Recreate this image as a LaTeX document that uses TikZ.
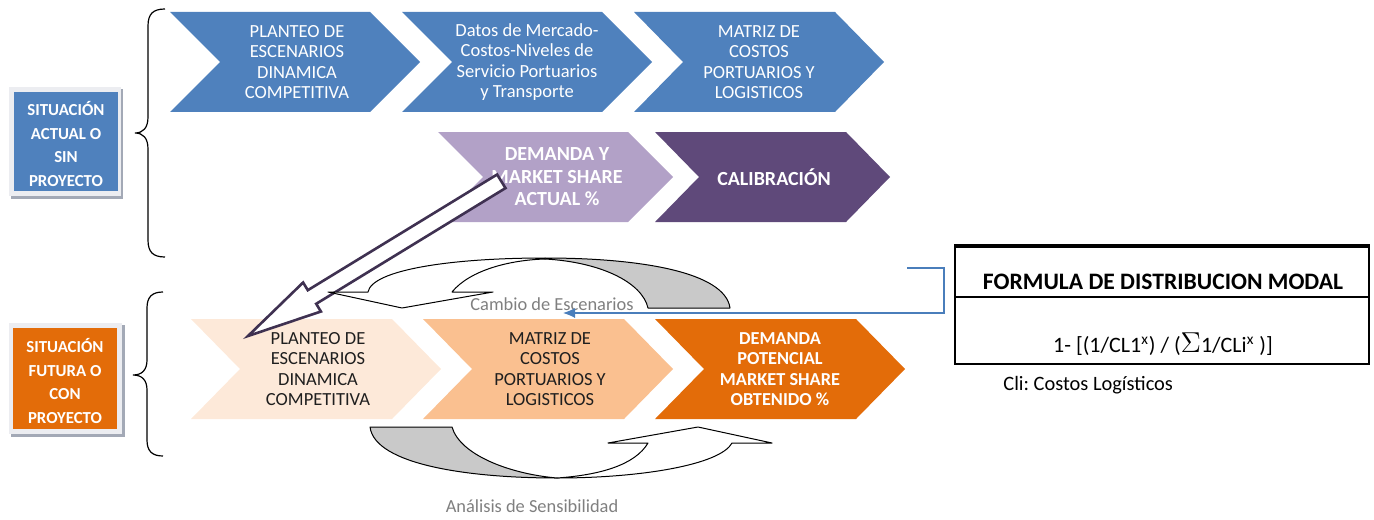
\documentclass[tikz,border=0pt]{standalone}
\usepackage{fontspec}
\setmainfont{Carlito}
\usetikzlibrary{arrows.meta}
\frenchspacing
\definecolor{cblue}{HTML}{4F81BD}
\definecolor{lpurple}{HTML}{B2A1C7}
\definecolor{dpurple}{HTML}{5F497A}
\definecolor{lpeach}{HTML}{FDE9D9}
\definecolor{mpeach}{HTML}{FAC090}
\definecolor{corange}{HTML}{E36C09}
\definecolor{arrowpurple}{HTML}{3F3151}
\definecolor{txtgray}{HTML}{7F7F7F}
\definecolor{lineblue}{HTML}{4A7EBB}
\definecolor{shgray}{HTML}{C9C9C9}
\definecolor{darktxt}{HTML}{1F1F1F}
\definecolor{framegray}{HTML}{ECEDF1}
\definecolor{shadowgray}{HTML}{A3A9B6}
\newcommand\chev[6]{%
  \fill[#6] (#1,#2) -- ({#1+#3-#5},#2) -- ({#1+#3},{#2+#4/2}) -- ({#1+#3-#5},{#2+#4}) -- (#1,{#2+#4}) -- ({#1+#5},{#2+#4/2}) -- cycle;}
\begin{document}
\begin{tikzpicture}[x=0.5pt,y=-0.5pt,
  ctext/.style={align=center,text=white,font=\fontsize{9.25}{10.25}\selectfont,inner sep=0pt},
  dtext/.style={ctext,text=darktxt},
  btext/.style={align=center,text=white,font=\bfseries\fontsize{10}{11.25}\selectfont,inner sep=0pt},
  otext/.style={align=center,text=white,font=\bfseries\fontsize{9.15}{10.15}\selectfont,inner sep=0pt},
  boxtext/.style={align=center,text=white,font=\bfseries\fontsize{8.4}{11.75}\selectfont,inner sep=0pt},
  graylabel/.style={text=txtgray,font=\fontsize{9.2}{11}\selectfont,inner sep=0pt},
  bracepen/.style={line width=0.6pt,black},
  curvepen/.style={line width=0.5pt,black,line join=round},
  conn/.style={lineblue,line width=0.55pt,-{Latex[length=6pt,width=5pt]}}
]
\useasboundingbox (0,0) rectangle (1374,519);

% ---- left boxes
\fill[shadowgray] (11,89) rectangle (123,199);
\fill[framegray] (9,87) rectangle (121,196);
\fill[cblue] (14,92) rectangle (118,191);
\node[boxtext] (sa) at (66,144) {SITUACIÓN\\ACTUAL O\\SIN\\PROYECTO};

\fill[shadowgray] (11,325) rectangle (125,437);
\fill[framegray] (9,323) rectangle (122,434);
\fill[corange] (13,328) rectangle (117,429);
\node[boxtext] (sf) at (65,381) {SITUACIÓN\\FUTURA O\\CON\\PROYECTO};

% ---- braces
\draw[bracepen] (165,9) .. controls (153,9) and (148,14) .. (148,26) -- (148,117) .. controls (148,128) and (143,133) .. (135,133) .. controls (143,133) and (148,138) .. (148,149) -- (148,240) .. controls (148,252) and (153,257) .. (165,257);
\draw[bracepen] (163,292) .. controls (152,292) and (147,297) .. (147,308) -- (147,360) .. controls (147,370) and (142,375) .. (133,375) .. controls (142,375) and (147,380) .. (147,390) -- (147,440) .. controls (147,451) and (152,456) .. (163,456);

% ---- row 1
\chev{170}{12}{250}{100}{50}{cblue}
\chev{402}{12}{250}{100}{50}{cblue}
\chev{634}{12}{250}{100}{49}{cblue}
\node[ctext] (r1a) at (297,62) {PLANTEO DE\\ESCENARIOS\\DINAMICA\\COMPETITIVA};
\node[ctext] (r1b) at (527,62) {Datos de Mercado-\\Costos-Niveles de\\Servicio Portuarios\\y Transporte};
\node[ctext] (r1c) at (759,62) {MATRIZ DE\\COSTOS\\PORTUARIOS Y\\LOGISTICOS};

% ---- row 2
\chev{438}{132}{235}{90}{45}{lpurple}
\chev{655}{132}{235}{90}{44}{dpurple}
\node[btext] (r2a) at (557,177) {DEMANDA Y\\MARKET SHARE\\ACTUAL \%};
\node[btext] (r2b) at (774,177) {CALIBRACIÓN};

% ---- row 3
\chev{191}{319}{250}{100}{49}{lpeach}
\chev{423}{319}{250}{100}{49}{mpeach}
\chev{655}{319}{250}{100}{49}{corange}
\node[dtext] (r3a) at (318,369) {PLANTEO DE\\ESCENARIOS\\DINAMICA\\COMPETITIVA};
\node[dtext] (r3b) at (550,369) {MATRIZ DE\\COSTOS\\PORTUARIOS Y\\LOGISTICOS};
\node[otext] (r3c) at (780,369) {DEMANDA\\POTENCIAL\\MARKET SHARE\\OBTENIDO \%};

% ---- big block arrow
\draw[arrowpurple,fill=white,line width=1.3pt,line join=miter]
  (497.1,174.5) -- (307.8,290.2) -- (303.1,282.5) -- (248,336) -- (320.9,311.5) -- (316.2,303.8) -- (505.5,188.1) -- cycle;

% ---- top curved arrow (Cambio de Escenarios)
\filldraw[curvepen,fill=shgray] (545,258) .. controls (640,258) and (725,272) .. (730,308) -- (648,308) .. controls (642,282) and (600,262) .. (545,259) -- cycle;
\filldraw[curvepen,fill=white] (545,258) .. controls (450,258) and (372,270) .. (368,292) -- (328,292) -- (402,308) -- (493,292) -- (452,292) .. controls (470,270) and (510,260) .. (545,259) -- cycle;
\node[graylabel] (lbl1) at (552,304) {Cambio de Escenarios};

% ---- bottom curved arrow (Análisis de Sensibilidad)
\filldraw[curvepen,fill=shgray] (370,427) .. controls (375,465) and (470,478) .. (557,478) .. controls (510,474) and (460,455) .. (452,427) -- cycle;
\filldraw[curvepen,fill=white] (557,478) .. controls (640,478) and (720,465) .. (732,443) -- (772,443) -- (698,427) -- (608,443) -- (648,443) .. controls (635,465) and (600,475) .. (557,478) -- cycle;
\node[graylabel] (lbl2) at (532,506) {Análisis de Sensibilidad};

% ---- formula box
\draw[line width=1.1pt] (955,246) rectangle (1369,364);
\draw[line width=1.6pt] (954,246) -- (1370,246);
\draw[line width=1.1pt] (955,297) -- (1369,297);
\node[font=\bfseries\fontsize{11.8}{13}\selectfont,inner sep=0pt] (ftitle) at (1163,282) {FORMULA DE DISTRIBUCION MODAL};
\node[font=\fontsize{11}{13}\selectfont,inner sep=0pt,anchor=base] (fform) at (1163,352) {1- [(1/CL1\textsuperscript{x}) / ({\fontsize{14.5}{15}\selectfont$\Sigma$}1/CLi\textsuperscript{x} )]};
\node[font=\fontsize{10.2}{12}\selectfont,inner sep=0pt,anchor=west] (cli) at (1003,385) {Cli: Costos Logísticos};

% ---- blue connector
\coordinate (cstart) at (907,268);
\coordinate (cend) at (563,313);
\draw[conn] (cstart) -- ++(37,0) |- (cend);
\end{tikzpicture}
\end{document}
